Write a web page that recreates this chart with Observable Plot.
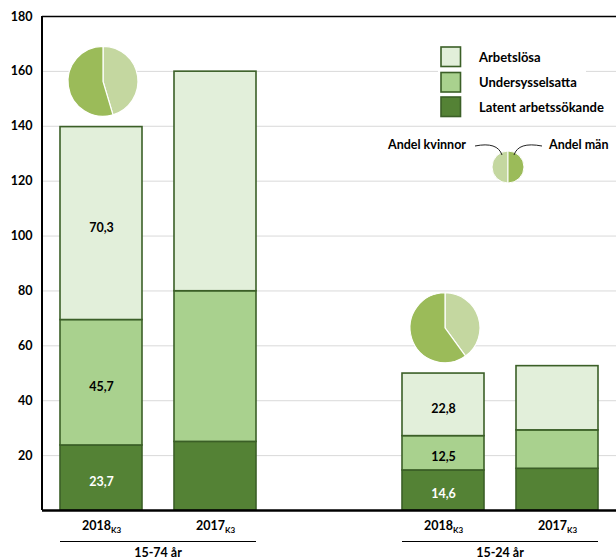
<!DOCTYPE html>
<html><head><meta charset="utf-8">
<script src="https://cdn.jsdelivr.net/npm/d3@7"></script>
<script src="https://cdn.jsdelivr.net/npm/@observablehq/plot@0.6"></script>
<style>
body{margin:0;background:#fff;}
#chart{width:616px;height:559px;}
</style></head><body><div id="chart"></div>
<script>
const slots = ["15-74 år|2018","15-74 år|2017","gap","15-24 år|2018","15-24 år|2017"];
const barSlots = ["15-74 år|2018","15-74 år|2017","15-24 år|2018","15-24 år|2017"];
const periods = ["2018","2017","2018","2017"];
const groupNames = ["15-74 år","15-24 år"];
const series = ["Arbetslösa","Undersysselsatta","Latent arbetssökande"];
const colors = ["#e2efda","#a9d18e","#548235"];
const latent = [23.7,25.0,14.6,15.2];
const under = [45.7,54.9,12.5,14.0];
const unemployed = [70.3,80.0,22.8,23.4];
const showLabels = [true,false,true,false];
const pieSlots = ["15-74 år|2018","15-24 år|2018"];
const womenShare = [45.4,40.0];
const pieLabels = ["Andel kvinnor","Andel män"];
const pieColors = ["#c4d7a0","#9bbb59"];
const yTicks = [20,40,60,80,100,120,140,160,180];

const order = ["Latent arbetssökande","Undersysselsatta","Arbetslösa"];
const rows = [];
barSlots.forEach((s,i)=>{
  rows.push({slot:s, series:"Latent arbetssökande", value:latent[i], label:showLabels[i]});
  rows.push({slot:s, series:"Undersysselsatta", value:under[i], label:showLabels[i]});
  rows.push({slot:s, series:"Arbetslösa", value:unemployed[i], label:showLabels[i]});
});
const fmt = v => v.toFixed(1).replace(".", ",");
const edge = "#3b5f27";
const FS = 12.5;

const plot = Plot.plot({
  width:616, height:559, marginTop:16, marginBottom:49, marginLeft:42, marginRight:0,
  style:{fontFamily:"Lato, sans-serif", fontWeight:"bold", fontSize:FS+"px", color:"#000", background:"#fff", overflow:"visible"},
  x:{domain:slots, paddingInner:0.285, paddingOuter:0.143, axis:null},
  y:{domain:[0,180], axis:null},
  color:{domain:series, range:colors},
  marks:[
    Plot.gridY(yTicks.slice(0,-1), {stroke:"#d9d9d9", strokeOpacity:1, strokeWidth:1}),
    Plot.axisY(yTicks, {tickSize:0, tickPadding:10, label:null, fontSize:FS, fontWeight:"bold"}),
    Plot.barY(rows, {x:"slot", y:"value", fill:"series", order, stroke:edge, strokeWidth:1.6}),
    Plot.text(rows, Plot.stackY({x:"slot", y:"value", z:"series", order,
      text: d => d.label && d.series !== "Latent arbetssökande" ? fmt(d.value) : null,
      fill:"#000", fontSize:FS, fontWeight:"bold", dy:4})),
    Plot.text(rows, Plot.stackY({x:"slot", y:"value", z:"series", order,
      text: d => d.label && d.series === "Latent arbetssökande" ? fmt(d.value) : null,
      fill:"#fff", fontSize:FS, fontWeight:"bold", dy:4})),
    Plot.ruleY([0], {stroke:"#000", strokeWidth:2.5}),
    Plot.ruleY([180], {stroke:"#000", strokeWidth:1.5}),
    Plot.text(barSlots, {x:d=>d, frameAnchor:"bottom", dy:19, text:(d,i)=>periods[i], fontSize:FS, fontWeight:"bold"})
  ]
});
document.getElementById("chart").appendChild(plot);

const svg = d3.select(plot);
const xs = plot.scale("x"), ys = plot.scale("y");
const bw = xs.bandwidth;
const x0 = s => xs.apply(s);

// left axis line
svg.append("line").attr("x1",42).attr("x2",42).attr("y1",ys.apply(180)).attr("y2",ys.apply(0))
  .attr("stroke","#000").attr("stroke-width",2);

// subscripts on period labels
svg.selectAll("text").filter(function(){ return periods.includes(this.textContent); })
  .append("tspan").attr("font-size",8).attr("dy",3).text("K3");

// group lines & labels
const yB = ys.apply(0);
groupNames.forEach(g=>{
  const a = x0(g+"|2018"), b = x0(g+"|2017")+bw;
  const yl = Math.round(yB+31)+0.5;
  svg.append("line").attr("x1",a).attr("x2",b).attr("y1",yl).attr("y2",yl).attr("stroke","#000").attr("stroke-width",1.2);
  svg.append("text").attr("x",(a+b)/2).attr("y",yB+43).attr("dy","0.35em").attr("text-anchor","middle")
    .attr("font-size",FS).text(g);
});

// pies
const arc = d3.arc().innerRadius(0).outerRadius(35);
pieSlots.forEach((s,i)=>{
  const j = barSlots.indexOf(s);
  const total = latent[j]+under[j]+unemployed[j];
  const px = x0(s)+bw/2+2, py = ys.apply(total+16.5);
  const w = womenShare[i]/100*2*Math.PI;
  const g = svg.append("g").attr("transform",`translate(${px},${py})`);
  g.append("path").attr("d",arc({startAngle:0,endAngle:w})).attr("fill",pieColors[0]).attr("stroke","#fff").attr("stroke-width",1.2);
  g.append("path").attr("d",arc({startAngle:w,endAngle:2*Math.PI})).attr("fill",pieColors[1]).attr("stroke","#fff").attr("stroke-width",1.2);
});

// legend
const lg = svg.append("g").attr("text-anchor","start");
const ly = [47,72.5,97];
series.forEach((s,i)=>{
  lg.append("rect").attr("x",438).attr("y",ly[i]-3).attr("width",148).attr("height",25).attr("fill","#fff");
});
series.forEach((s,i)=>{
  lg.append("rect").attr("x",441).attr("y",ly[i]).attr("width",19.5).attr("height",19.5)
    .attr("fill",colors[i]).attr("stroke",edge).attr("stroke-width",1.6);
  lg.append("text").attr("x",479).attr("y",ly[i]+10).attr("dy","0.35em").attr("text-anchor","start").attr("font-size",13).text(s);
});
// mini pie legend
const mp = lg.append("g").attr("transform","translate(508,167)");
const marc = d3.arc().innerRadius(0).outerRadius(16);
mp.append("path").attr("d",marc({startAngle:Math.PI,endAngle:2*Math.PI})).attr("fill",pieColors[0]).attr("stroke","#fff").attr("stroke-width",1);
mp.append("path").attr("d",marc({startAngle:0,endAngle:Math.PI})).attr("fill",pieColors[1]).attr("stroke","#fff").attr("stroke-width",1);
lg.append("text").attr("x",466).attr("y",145).attr("dy","0.35em").attr("text-anchor","end").attr("font-size",12.5).text(pieLabels[0]);
lg.append("text").attr("x",549).attr("y",145).attr("dy","0.35em").attr("text-anchor","start").attr("font-size",12.5).text(pieLabels[1]);
lg.append("path").attr("d","M475,146 C490,143 499,146 502,155").attr("fill","none").attr("stroke","#222").attr("stroke-width",1);
lg.append("path").attr("d","M514,155 C517,146 526,143 542,146").attr("fill","none").attr("stroke","#222").attr("stroke-width",1);
</script></body></html>
